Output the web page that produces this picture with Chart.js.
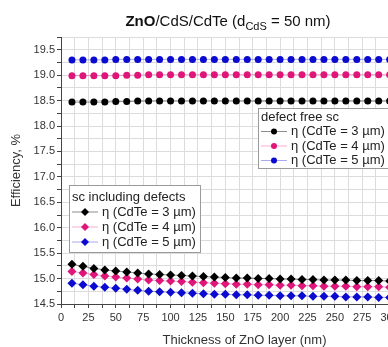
<!DOCTYPE html>
<html>
<head>
<meta charset="utf-8">
<script src="https://cdn.jsdelivr.net/npm/chart.js@4"></script>
<style>
  html, body { margin: 0; padding: 0; background: #fff; overflow: hidden; }
  #wrap { position: relative; width: 450px; height: 347px; }
</style>
</head>
<body>
<div id="wrap"><canvas id="chart"></canvas></div>
<script>
// ZnO thickness (nm)
const thickness = [10, 20, 30, 40, 50, 60, 70, 80, 90, 100, 110, 120, 130, 140, 150,
                   160, 170, 180, 190, 200, 210, 220, 230, 240, 250, 260, 270, 280, 290, 300];

// defect free solar cell efficiency (%)
const freeCdTe3 = [18.47, 18.47, 18.47, 18.47, 18.48, 18.48, 18.49, 18.49, 18.49, 18.49,
                   18.49, 18.49, 18.49, 18.49, 18.49, 18.49, 18.49, 18.49, 18.49, 18.49,
                   18.49, 18.49, 18.49, 18.49, 18.49, 18.49, 18.49, 18.49, 18.49, 18.49];
const freeCdTe4 = [18.99, 18.99, 18.99, 18.99, 18.99, 19.00, 19.00, 19.01, 19.01, 19.01,
                   19.01, 19.01, 19.01, 19.01, 19.01, 19.01, 19.01, 19.01, 19.01, 19.01,
                   19.01, 19.01, 19.01, 19.01, 19.01, 19.01, 19.01, 19.01, 19.01, 19.01];
const freeCdTe5 = [19.30, 19.30, 19.30, 19.30, 19.31, 19.31, 19.31, 19.31, 19.31, 19.31,
                   19.31, 19.31, 19.31, 19.31, 19.31, 19.31, 19.31, 19.31, 19.31, 19.31,
                   19.31, 19.31, 19.31, 19.31, 19.31, 19.31, 19.31, 19.31, 19.31, 19.31];

// solar cell including defects efficiency (%)
const defCdTe3 = [15.28, 15.24, 15.20, 15.17, 15.15, 15.13, 15.11, 15.09, 15.08, 15.07,
                  15.06, 15.05, 15.04, 15.03, 15.02, 15.01, 15.01, 15.00, 15.00, 14.99,
                  14.99, 14.98, 14.98, 14.97, 14.97, 14.97, 14.96, 14.96, 14.96, 14.95];
const defCdTe4 = [15.14, 15.11, 15.08, 15.05, 15.03, 15.01, 14.99, 14.97, 14.96, 14.95,
                  14.94, 14.93, 14.92, 14.91, 14.90, 14.89, 14.89, 14.88, 14.88, 14.87,
                  14.87, 14.86, 14.86, 14.85, 14.85, 14.85, 14.84, 14.84, 14.84, 14.83];
const defCdTe5 = [14.91, 14.88, 14.85, 14.83, 14.81, 14.79, 14.77, 14.75, 14.74, 14.73,
                  14.72, 14.71, 14.70, 14.69, 14.69, 14.68, 14.68, 14.67, 14.67, 14.66,
                  14.66, 14.66, 14.65, 14.65, 14.65, 14.64, 14.64, 14.64, 14.63, 14.63];

const seriesLabels = ['η (CdTe = 3 µm)', 'η (CdTe = 4 µm)', 'η (CdTe = 5 µm)'];
const legendTitles = ['defect free sc', 'sc including defects'];

const BLACK = '#000000', PINK = '#e0157a', BLUE = '#0a0ad0';
const LINE = ['rgba(0,0,0,0.45)', 'rgba(224,21,122,0.35)', 'rgba(10,10,208,0.35)'];

const pts = (ys) => thickness.map((x, i) => ({x: x, y: ys[i]}));

function ds(label, ys, color, line, shape, r) {
    return {
        label: label, data: pts(ys),
        borderColor: line, borderWidth: 1,
        pointStyle: shape, pointRadius: r, pointBorderWidth: 0,
        pointBackgroundColor: color, pointBorderColor: color,
        showLine: true, fill: false
    };
}

const datasets = [
    ds(seriesLabels[0], freeCdTe3, BLACK, LINE[0], 'circle', 3.5),
    ds(seriesLabels[1], freeCdTe4, PINK, LINE[1], 'circle', 3.5),
    ds(seriesLabels[2], freeCdTe5, BLUE, LINE[2], 'circle', 3.5),
    ds(seriesLabels[0], defCdTe3, BLACK, LINE[0], 'rectRot', 4.5),
    ds(seriesLabels[1], defCdTe4, PINK, LINE[1], 'rectRot', 4.5),
    ds(seriesLabels[2], defCdTe5, BLUE, LINE[2], 'rectRot', 4.5)
];

// two boxed legends + mixed-style title drawn on the canvas
const boxes = {
    id: 'boxes',
    afterDraw(chart) {
        const ctx = chart.ctx;
        const groups = [
            {title: legendTitles[0], idx: [0, 1, 2], x: 258, y: 108, w: 170, h: 60, step: 14.5, ty: 117},
            {title: legendTitles[1], idx: [3, 4, 5], x: 69, y: 185, w: 131, h: 67, step: 15, ty: 197}
        ];
        ctx.save();
        groups.forEach(g => {
            ctx.fillStyle = '#fff';
            ctx.fillRect(g.x, g.y, g.w, g.h);
            ctx.strokeStyle = '#9a9a9a';
            ctx.lineWidth = 1;
            ctx.strokeRect(g.x + 0.5, g.y + 0.5, g.w, g.h);
            ctx.font = '13px Arial, "Liberation Sans", sans-serif';
            ctx.fillStyle = '#222';
            ctx.textBaseline = 'middle';
            ctx.textAlign = 'left';
            ctx.fillText(g.title, g.x + 3, g.ty);
            g.idx.forEach((k, j) => {
                const d = chart.data.datasets[k];
                const yy = g.ty + g.step * (j + 1);
                ctx.strokeStyle = d.borderColor;
                ctx.beginPath();
                ctx.moveTo(g.x + 3, yy);
                ctx.lineTo(g.x + 29, yy);
                ctx.stroke();
                ctx.fillStyle = d.pointBackgroundColor;
                ctx.beginPath();
                if (d.pointStyle === 'circle') {
                    ctx.arc(g.x + 16, yy, 3, 0, Math.PI * 2);
                } else {
                    ctx.moveTo(g.x + 16, yy - 4); ctx.lineTo(g.x + 20, yy);
                    ctx.lineTo(g.x + 16, yy + 4); ctx.lineTo(g.x + 12, yy);
                }
                ctx.fill();
                ctx.fillStyle = '#222';
                ctx.fillText(d.label, g.x + 33, yy);
            });
        });

        // title: ZnO (bold) /CdS/CdTe (d_CdS = 50 nm)
        const parts = [
            {t: 'ZnO', f: 'bold 15px Arial, "Liberation Sans", sans-serif', dy: 0},
            {t: '/CdS/CdTe (d', f: '15px Arial, "Liberation Sans", sans-serif', dy: 0},
            {t: 'CdS', f: '11px Arial, "Liberation Sans", sans-serif', dy: 4},
            {t: ' = 50 nm)', f: '15px Arial, "Liberation Sans", sans-serif', dy: 0}
        ];
        let total = 0;
        parts.forEach(p => { ctx.font = p.f; p.w = ctx.measureText(p.t).width; total += p.w; });
        let x = 228 - total / 2;
        ctx.fillStyle = '#111';
        ctx.textBaseline = 'alphabetic';
        parts.forEach(p => { ctx.font = p.f; ctx.fillText(p.t, x, 26 + p.dy); x += p.w; });
        ctx.restore();
    }
};

const tickFont = {family: 'Arial, "Liberation Sans", sans-serif', size: 11};

new Chart(document.getElementById('chart'), {
    type: 'scatter',
    data: {datasets: datasets},
    plugins: [boxes],
    options: {
        responsive: true,
        maintainAspectRatio: false,
        animation: false,
        layout: {padding: {top: 37, right: 22, left: 0, bottom: 0}},
        plugins: {legend: {display: false}, tooltip: {enabled: false}, title: {display: false}},
        scales: {
            x: {
                type: 'linear', min: 0, max: 335,
                afterFit: s => { s.height = 43; },
                ticks: {
                    stepSize: 12.5, autoSkip: false, maxRotation: 0, color: '#333', font: tickFont, padding: 3,
                    callback: v => (v % 25 === 0 ? String(v) : '')
                },
                grid: {color: '#dcdcdc', lineWidth: 1, tickLength: 4, tickColor: '#444'},
                border: {color: '#444', width: 1},
                title: {display: true, text: 'Thickness of ZnO layer (nm)', color: '#333',
                        font: {family: 'Arial, "Liberation Sans", sans-serif', size: 13}, padding: {top: 4, bottom: -1}}
            },
            y: {
                min: 14.5, max: 19.75,
                afterFit: s => { s.width = 61; },
                ticks: {
                    stepSize: 0.25, autoSkip: false, color: '#333', font: tickFont, padding: 2,
                    callback: v => (Math.abs(v * 2 - Math.round(v * 2)) < 1e-6 ? v.toFixed(1) : '')
                },
                grid: {color: '#dcdcdc', lineWidth: 1, tickLength: 4, tickColor: '#444'},
                border: {color: '#444', width: 1},
                title: {display: true, text: 'Efficiency, %', color: '#333',
                        font: {family: 'Arial, "Liberation Sans", sans-serif', size: 13}, padding: {top: 9, bottom: 4}}
            }
        }
    }
});
</script>
</body>
</html>
